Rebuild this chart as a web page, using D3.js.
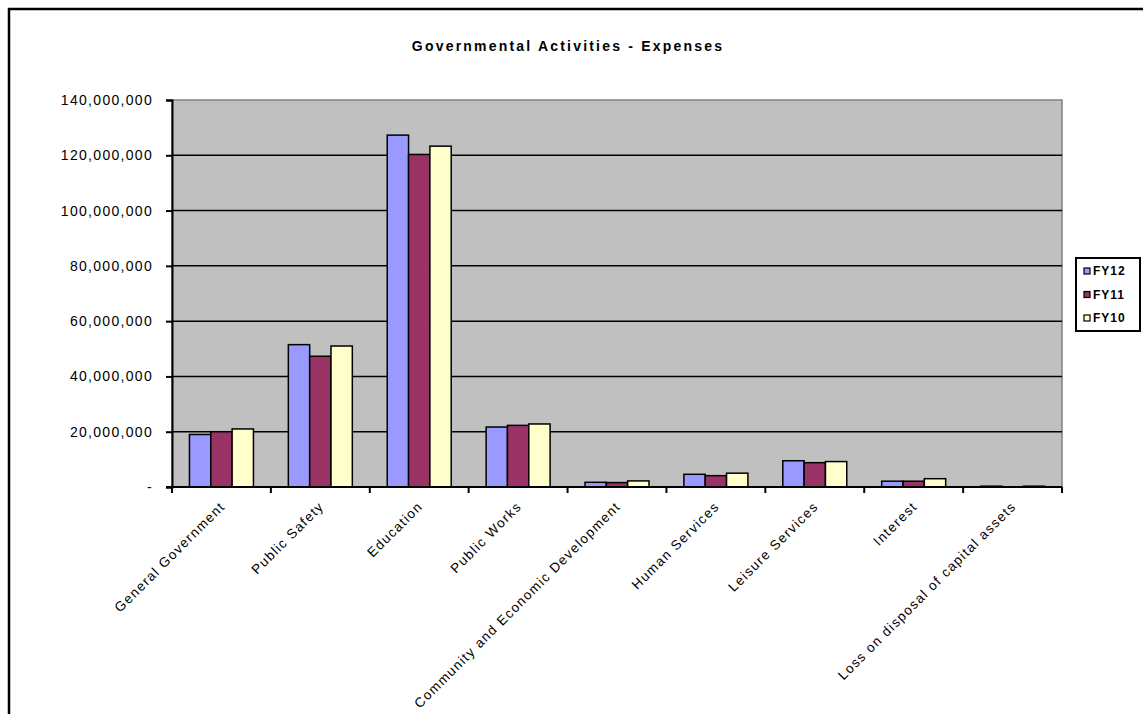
<!DOCTYPE html>
<html>
  <head>
    <style>
      body { margin: 0; background: #ffffff; }
      text { font-family: Arial, "Liberation Sans", sans-serif; }
    </style>
  </head>
  <body>
    <svg id="chart"></svg>
  </body>
</html>

<script src="https://d3js.org/d3.v7.min.js"></script>

<script>
  const WIDTH = 1143;
  const HEIGHT = 714;

  const categories = ['General Government', 'Public Safety', 'Education', 'Public Works',
    'Community and Economic Development', 'Human Services', 'Leisure Services',
    'Interest', 'Loss on disposal of capital assets'];
  const seriesNames = ['FY12', 'FY11', 'FY10'];
  const seriesColors = ['#9999FF', '#993366', '#FFFFCC'];
  const fy12 = [19000000, 51500000, 127300000, 21700000, 1700000, 4600000, 9500000, 2100000, 300000];
  const fy11 = [20000000, 47300000, 120300000, 22300000, 1600000, 4100000, 8800000, 2100000, 0];
  const fy10 = [21000000, 51000000, 123300000, 22800000, 2200000, 5000000, 9200000, 3000000, 300000];
  const yTicks = [0, 20000000, 40000000, 60000000, 80000000, 100000000, 120000000, 140000000];

  const PLOT = { left: 172, right: 1062, top: 100, bottom: 487 };

  let svg = d3.select('#chart')
    .attr('width', WIDTH)
    .attr('height', HEIGHT);

  // chart area border
  svg.append('rect')
    .attr('x', 9).attr('y', 9)
    .attr('width', 1300).attr('height', 900)
    .attr('fill', 'none')
    .attr('stroke', '#000')
    .attr('stroke-width', 2.5);

  // title
  svg.append('text')
    .attr('x', 568).attr('y', 51)
    .attr('text-anchor', 'middle')
    .style('font-size', '14px')
    .style('font-weight', 'bold')
    .style('letter-spacing', '2.2px')
    .text('Governmental Activities  - Expenses');

  let x = d3.scaleBand()
    .domain(categories)
    .range([PLOT.left, PLOT.right])
    .paddingInner(0.353)
    .paddingOuter(0.1765);

  let xs = d3.scaleBand()
    .domain(seriesNames)
    .range([0, x.bandwidth()]);

  let y = d3.scaleLinear()
    .domain([0, 140000000])
    .range([PLOT.bottom, PLOT.top]);

  // plot background
  svg.append('rect')
    .attr('x', PLOT.left).attr('y', PLOT.top)
    .attr('width', PLOT.right - PLOT.left)
    .attr('height', PLOT.bottom - PLOT.top)
    .attr('fill', '#C0C0C0')
    .attr('stroke', '#808080')
    .attr('stroke-width', 1.5);

  // gridlines
  svg.selectAll('.grid')
    .data(yTicks.slice(1, -1))
    .enter()
    .append('line')
    .attr('x1', PLOT.left).attr('x2', PLOT.right)
    .attr('y1', d => y(d)).attr('y2', d => y(d))
    .attr('stroke', '#000')
    .attr('stroke-width', 1.5);

  // bars
  let table = [fy12, fy11, fy10];
  let groups = svg.selectAll('.group')
    .data(categories)
    .enter()
    .append('g')
    .attr('transform', d => 'translate(' + x(d) + ',0)');

  groups.selectAll('rect')
    .data((d, i) => seriesNames.map((s, j) => ({ s: s, v: table[j][i], c: seriesColors[j] })))
    .enter()
    .append('rect')
    .filter(d => d.v > 0)
    .attr('x', d => xs(d.s))
    .attr('y', d => y(d.v))
    .attr('width', xs.bandwidth())
    .attr('height', d => y(0) - y(d.v))
    .attr('fill', d => d.c)
    .attr('stroke', '#000')
    .attr('stroke-width', 1.5);

  // y axis
  let yAxis = d3.axisLeft(y)
    .tickValues(yTicks)
    .tickSize(6)
    .tickPadding(13)
    .tickFormat(d => d === 0 ? '-' : d3.format(',')(d));

  let yg = svg.append('g')
    .attr('transform', 'translate(' + PLOT.left + ',0)')
    .call(yAxis);
  yg.select('.domain').attr('stroke', '#000').attr('stroke-width', 2);
  yg.selectAll('.tick line').attr('stroke', '#000').attr('stroke-width', 2);
  yg.selectAll('.tick text')
    .style('font-size', '14px')
    .style('letter-spacing', '1.3px')
    .attr('fill', '#000');

  // x axis baseline and category ticks
  let step = x.step();
  let boundaries = d3.range(categories.length + 1).map(i => PLOT.left + i * step);
  svg.append('line')
    .attr('x1', PLOT.left - 6).attr('x2', PLOT.right)
    .attr('y1', PLOT.bottom).attr('y2', PLOT.bottom)
    .attr('stroke', '#000').attr('stroke-width', 2);
  svg.selectAll('.xtick')
    .data(boundaries)
    .enter()
    .append('line')
    .attr('x1', d => d).attr('x2', d => d)
    .attr('y1', PLOT.bottom).attr('y2', PLOT.bottom + 6)
    .attr('stroke', '#000').attr('stroke-width', 2);

  // rotated category labels
  svg.selectAll('.xlabel')
    .data(categories)
    .enter()
    .append('text')
    .attr('transform', d => 'translate(' + (x(d) + x.bandwidth() / 2 + 1) + ',' + (PLOT.bottom + 17) + ') rotate(-45)')
    .attr('text-anchor', 'end')
    .attr('dy', '0.35em')
    .style('font-size', '13.5px')
    .style('letter-spacing', '1.3px')
    .text(d => d);

  // legend
  let legend = svg.append('g');
  legend.append('rect')
    .attr('x', 1076).attr('y', 258)
    .attr('width', 64).attr('height', 73)
    .attr('fill', '#fff')
    .attr('stroke', '#000')
    .attr('stroke-width', 2);

  let items = legend.selectAll('.item')
    .data(seriesNames)
    .enter()
    .append('g')
    .attr('transform', (d, i) => 'translate(1084,' + (271 + i * 23.5) + ')');
  items.append('rect')
    .attr('x', 0).attr('y', -3)
    .attr('width', 6).attr('height', 6)
    .attr('fill', (d, i) => seriesColors[i])
    .attr('stroke', '#000')
    .attr('stroke-width', 1.2);
  items.append('text')
    .attr('x', 9).attr('dy', '0.36em')
    .style('font-size', '12px')
    .style('font-weight', 'bold')
    .style('letter-spacing', '1px')
    .text(d => d);
</script>
